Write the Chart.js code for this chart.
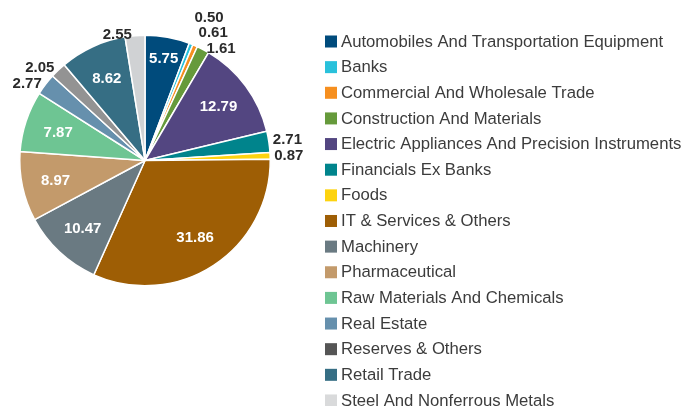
<!DOCTYPE html>
<html><head><meta charset="utf-8">
<script src="https://cdn.jsdelivr.net/npm/chart.js@4"></script>
<style>html,body{margin:0;padding:0;background:#fff;overflow:hidden}canvas{display:block}</style>
</head><body>
<canvas id="c" width="686" height="406"></canvas>
<script>
const categories = [
  'Automobiles And Transportation Equipment', 'Banks', 'Commercial And Wholesale Trade',
  'Construction And Materials', 'Electric Appliances And Precision Instruments',
  'Financials Ex Banks', 'Foods', 'IT & Services & Others', 'Machinery', 'Pharmaceutical',
  'Raw Materials And Chemicals', 'Real Estate', 'Reserves & Others', 'Retail Trade',
  'Steel And Nonferrous Metals'
];
const values = [5.75, 0.50, 0.61, 1.61, 12.79, 2.71, 0.87, 31.86, 10.47, 8.97, 7.87, 2.77, 2.05, 8.62, 2.55];
const sliceColors = ['#004b7c', '#29c1db', '#f68f1f', '#669a3b', '#534681', '#00848c', '#fdd30f',
  '#9e5e05', '#6a7a82', '#c39a6b', '#6ec593', '#6690ad', '#939393', '#366e84', '#d0d2d4'];
const legendColors = ['#004b7c', '#29c1db', '#f68f1f', '#669a3b', '#534681', '#00848c', '#fdd30f',
  '#9e5e05', '#6a7a82', '#c39a6b', '#6ec593', '#6690ad', '#555555', '#366e84', '#d9dadb'];

const FONT = '"Helvetica Neue", Helvetica, Arial, "Liberation Sans", sans-serif';

const sliceLabels = {
  id: 'sliceLabels',
  afterDatasetsDraw(chart) {
    const ctx = chart.ctx;
    const meta = chart.getDatasetMeta(0);
    const data = chart.data.datasets[0].data;
    const total = data.reduce((a, b) => a + b, 0);
    ctx.save();
    ctx.font = 'bold 15px ' + FONT;
    ctx.textBaseline = 'middle';
    const outside = [];
    meta.data.forEach((arc, i) => {
      const p = arc.getProps(['x', 'y', 'startAngle', 'endAngle', 'outerRadius'], true);
      const mid = (p.startAngle + p.endAngle) / 2;
      const pct = data[i] / total * 100;
      const txt = data[i].toFixed(2);
      if (pct >= 5) {
        const r = p.outerRadius * (pct < 7 ? 0.83 : 0.73);
        ctx.fillStyle = '#ffffff';
        ctx.textAlign = 'center';
        ctx.fillText(txt, p.x + Math.cos(mid) * r, p.y + Math.sin(mid) * r + 1);
      } else {
        const r = p.outerRadius + 1;
        outside.push({ txt, ax: p.x + Math.cos(mid) * r, ay: p.y + Math.sin(mid) * r, right: Math.cos(mid) >= 0 });
      }
    });
    [true, false].forEach(side => {
      const items = outside.filter(o => o.right === side).sort((a, b) => b.ay - a.ay);
      for (let k = 1; k < items.length; k++) {
        if (items[k - 1].ay - items[k].ay < 15.5) items[k].ay = items[k - 1].ay - 15.5;
      }
    });
    ctx.fillStyle = '#2b2b2b';
    outside.forEach(o => {
      ctx.textAlign = o.right ? 'left' : 'right';
      ctx.fillText(o.txt, o.ax + (o.right ? 3 : -3), o.ay);
    });
    ctx.restore();
  }
};

const sideLegend = {
  id: 'sideLegend',
  afterDraw(chart) {
    const ctx = chart.ctx;
    ctx.save();
    ctx.font = '16.7px ' + FONT;
    ctx.textBaseline = 'middle';
    ctx.textAlign = 'left';
    chart.data.labels.forEach((lab, i) => {
      const cy = 41.5 + i * 25.64;
      ctx.fillStyle = legendColors[i];
      ctx.fillRect(325, cy - 6, 12, 12);
      ctx.fillStyle = '#3c3c3c';
      ctx.fillText(lab, 341, cy + 0.5);
    });
    ctx.restore();
  }
};

new Chart(document.getElementById('c'), {
  type: 'pie',
  data: {
    labels: categories,
    datasets: [{
      data: values,
      backgroundColor: sliceColors,
      borderColor: '#ffffff',
      borderWidth: 1.5
    }]
  },
  options: {
    responsive: false,
    animation: false,
    layout: { padding: { left: 19, right: 415, top: 34, bottom: 119 } },
    plugins: { legend: { display: false }, tooltip: { enabled: false } }
  },
  plugins: [sliceLabels, sideLegend]
});
</script>
</body></html>
